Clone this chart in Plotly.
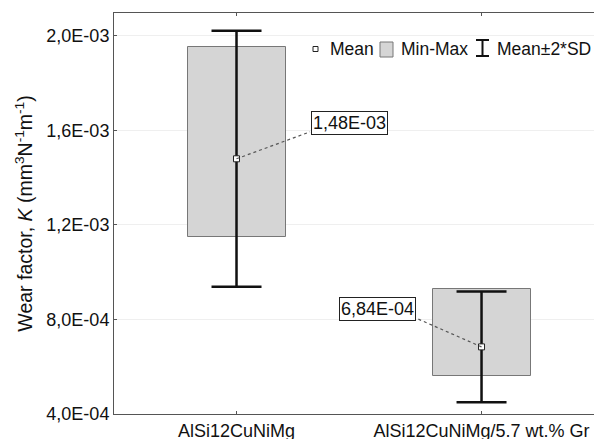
import plotly.graph_objects as go

# ---- data ----
categories = ["AlSi12CuNiMg", "AlSi12CuNiMg/5.7 wt.% Gr"]
means = [1.48e-3, 6.84e-4]
mins = [1.149e-3, 5.59e-4]
maxs = [1.953e-3, 9.31e-4]
two_sd = [0.542e-3, 2.34e-4]
mean_labels = ["1,48E-03", "6,84E-04"]
ytick_vals = [4e-4, 8e-4, 1.2e-3, 1.6e-3, 2.0e-3]
ytick_text = ["4,0E-04", "8,0E-04", "1,2E-03", "1,6E-03", "2,0E-03"]

FONT = "Liberation Sans, Arial, sans-serif"
xpos = list(range(len(categories)))

fig = go.Figure()
fig.add_trace(go.Bar(
    x=xpos, y=[mx - mn for mx, mn in zip(maxs, mins)], base=mins, width=0.4,
    marker=dict(color="#d5d5d5", line=dict(color="#777777", width=1)),
    showlegend=False, hoverinfo="skip"))

# value labels with dotted leader lines (drawn above bars, below error bars/markers order handled by shapes)
label_pos = [(0.463, 1.632e-3), (0.5755, 8.44e-4)]
leader_end = [(0.30, 1.594e-3), (0.741, 8.02e-4)]
for i in range(len(categories)):
    fig.add_annotation(x=label_pos[i][0], y=label_pos[i][1], text=mean_labels[i],
                       showarrow=False, font=dict(family=FONT, size=18, color="#111"),
                       bgcolor="white", bordercolor="#222", borderwidth=1, borderpad=1)
    fig.add_shape(type="line", x0=xpos[i], y0=means[i], x1=leader_end[i][0], y1=leader_end[i][1],
                  line=dict(color="#555", width=1.2, dash="dot"), layer="above")

fig.add_trace(go.Scatter(
    x=xpos, y=means, mode="markers",
    marker=dict(symbol="square", size=6, color="white", line=dict(color="#222", width=1)),
    error_y=dict(type="data", array=two_sd, symmetric=True, color="#111", thickness=2.5, width=25),
    showlegend=False))

# manual legend (paper coords; plot area 114..594 x 13..414 px)
def px(x):
    return (x - 114) / 480.0
def py(y):
    return (414 - y) / 401.0

fig.add_shape(type="rect", xref="paper", yref="paper", x0=px(313), x1=px(318), y0=py(51.5), y1=py(46.5),
              fillcolor="white", line=dict(color="#222", width=1))
fig.add_shape(type="rect", xref="paper", yref="paper", x0=px(380), x1=px(393), y0=py(57), y1=py(42),
              fillcolor="#d5d5d5", line=dict(color="#777", width=1))
fig.add_shape(type="path", xref="paper", yref="paper",
              path=f"M {px(476)} {py(40)} L {px(489)} {py(40)} M {px(482.5)} {py(40)} L {px(482.5)} {py(56)} "
                   f"M {px(476)} {py(56)} L {px(489)} {py(56)}",
              line=dict(color="#111", width=2))
for txt, x0 in [("Mean", 328), ("Min-Max", 399), ("Mean±2*SD", 495)]:
    fig.add_annotation(xref="paper", yref="paper", x=px(x0), y=py(49), text=txt, showarrow=False,
                       xanchor="left", yanchor="middle", font=dict(family=FONT, size=17.5, color="#111"))

fig.update_layout(
    width=594, height=439,
    margin=dict(l=114, r=0, t=13, b=25),
    paper_bgcolor="white", plot_bgcolor="white",
    font=dict(family=FONT, size=18, color="#111"),
    bargap=0,
    xaxis=dict(range=[-0.5, 1.459], tickvals=xpos, ticktext=categories,
               showline=True, linecolor="#555", linewidth=1, mirror="ticks",
               ticks="inside", ticklen=3, tickcolor="#555", showgrid=False, zeroline=False,
               automargin=False, tickfont=dict(family=FONT, size=18, color="#111")),
    yaxis=dict(range=[4e-4, 2.097e-3], tickvals=ytick_vals, ticktext=ytick_text,
               showline=True, linecolor="#555", linewidth=1,
               ticks="inside", ticklen=3, tickcolor="#555",
               showgrid=True, gridcolor="#efefef", gridwidth=1, zeroline=False,
               automargin=False, tickfont=dict(family=FONT, size=18, color="#111"),
               title=dict(text="Wear factor, <i>K</i> (mm<sup>3</sup>N<sup>-1</sup>m<sup>-1</sup>)",
                          font=dict(family=FONT, size=19.5, color="#111"), standoff=8)),
)

fig.write_html("out.html", config={"displayModeBar": False},
               post_script="document.body.style.margin='0';document.body.style.overflow='hidden';"
                           "document.documentElement.style.overflow='hidden';")
